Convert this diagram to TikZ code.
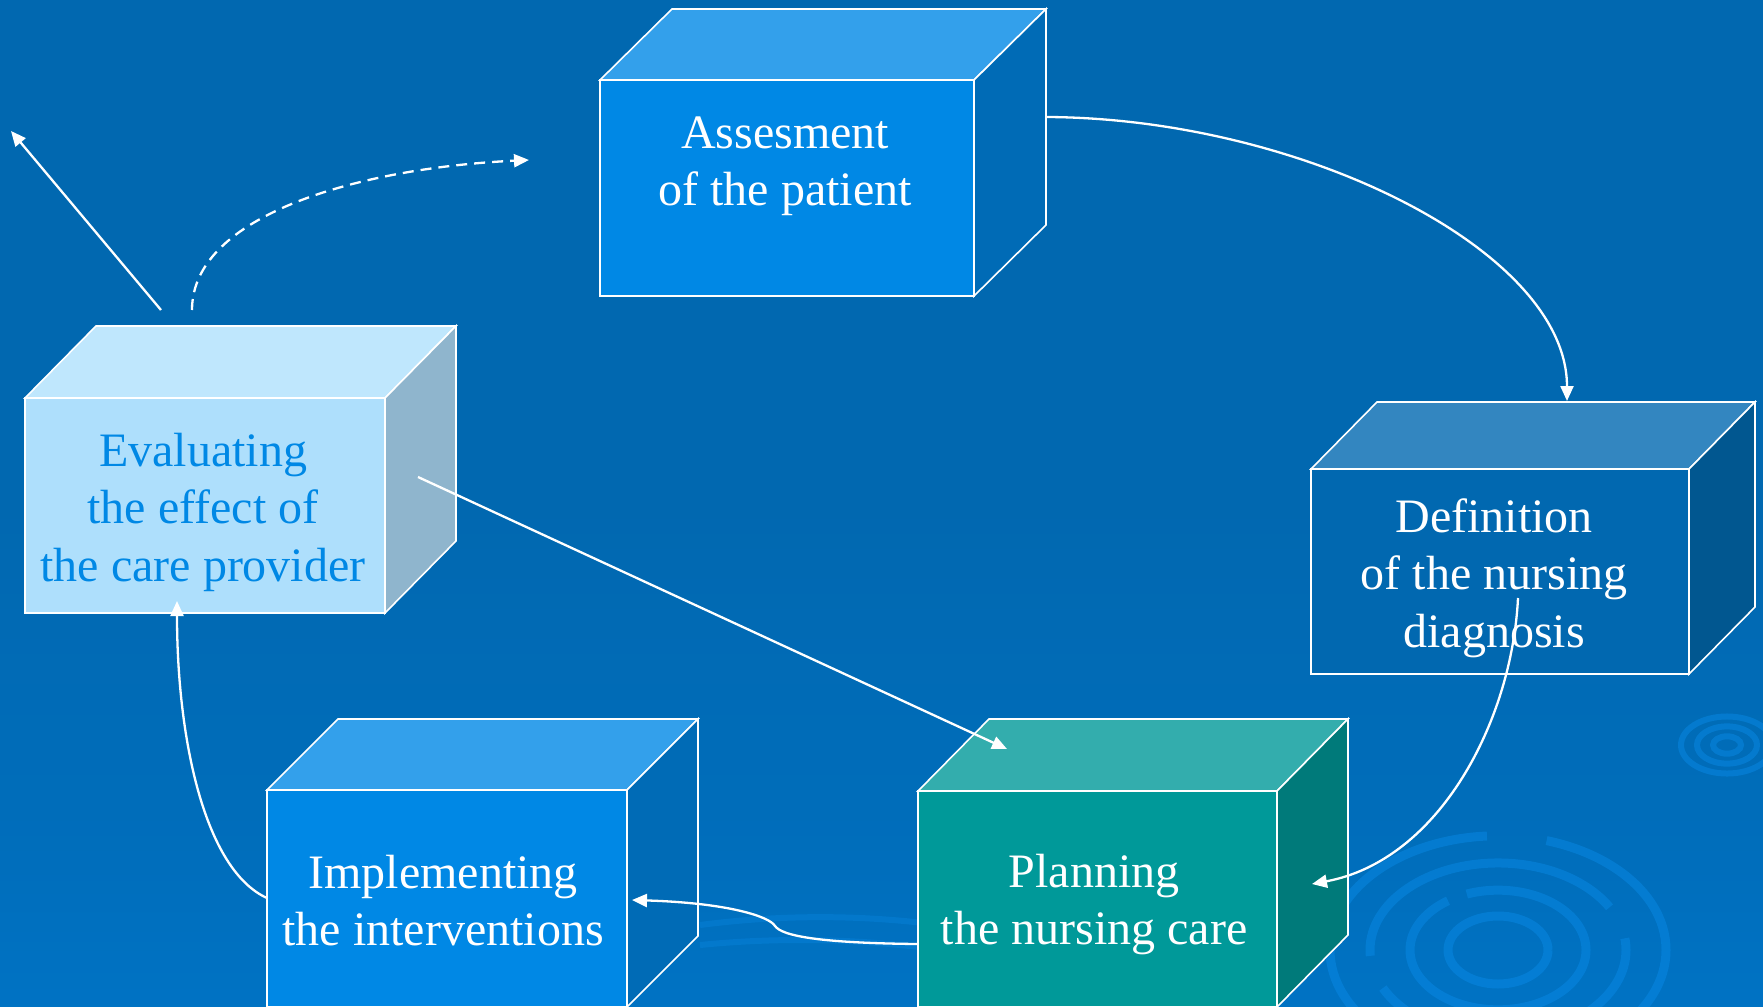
\documentclass[tikz,border=0pt]{standalone}
\usepackage{fontspec}
\setmainfont{Liberation Serif}
\usetikzlibrary{arrows.meta,calc}

\definecolor{bgtop}{RGB}{1,104,176}
\definecolor{bgmid}{RGB}{0,110,188}
\definecolor{bgbot}{RGB}{0,131,222}
\definecolor{rip}{RGB}{10,140,234}
\definecolor{afront}{RGB}{0,136,229}
\definecolor{atop}{RGB}{51,160,235}
\definecolor{aright}{RGB}{0,107,182}
\definecolor{dfront}{RGB}{1,104,176}
\definecolor{dtop}{RGB}{51,134,192}
\definecolor{dright}{RGB}{1,87,144}
\definecolor{efront}{RGB}{174,223,252}
\definecolor{etop}{RGB}{191,231,253}
\definecolor{eright}{RGB}{143,181,205}
\definecolor{etext}{RGB}{0,136,229}
\definecolor{pfront}{RGB}{0,153,153}
\definecolor{ptop}{RGB}{51,173,173}
\definecolor{pright}{RGB}{0,122,122}

\pgfdeclareverticalshading{bgsh}{100bp}{color(0bp)=(bgbot); color(32bp)=(bgmid); color(50bp)=(bgtop); color(100bp)=(bgtop)}

\newcommand\boxlines[1]{\begin{tabular}[t]{@{}c@{}}#1\end{tabular}}

% name, colour prefix, x1, y1, x2, y2, dx, dy
\newcommand\cuboid[8]{%
  \path[face, fill=#2top] (#3,#4) -- (#3+#7,#4-#8) -- (#5+#7,#4-#8) -- (#5,#4) -- cycle;
  \path[face, fill=#2right] (#5,#4) -- (#5+#7,#4-#8) -- (#5+#7,#6-#8) -- (#5,#6) -- cycle;
  \node[face, fill=#2front, anchor=north west, inner sep=0pt, outer sep=0pt,
        minimum width=#5-#3, minimum height=#6-#4] (#1) at (#3,#4) {};%
}

\begin{document}
\begin{tikzpicture}[x=1pt,y=-1pt,
  face/.style={draw=white, line width=1.6pt, line join=miter},
  conn/.style={draw=white, line width=2.3pt, -{Triangle[length=15pt,width=13pt]}},
  lbl/.style={inner sep=0pt, outer sep=0pt, anchor=base, text=white,
              font=\fontsize{48}{57.5}\selectfont},
  ripple/.style={draw=rip, line width=9pt, opacity=.45}]

\useasboundingbox (0,0) rectangle (1763,1006);
\shade[shading=bgsh] (0,0) rectangle (1763,1006);

\begin{scope}
\clip (0,0) rectangle (1763,1006);

% background ripples
\foreach \r/\g in {50/0, 88/20, 128/35, 168/60} {
  \draw[ripple, dash pattern=on 300pt off \g pt] (1498,950) ellipse [x radius=\r, y radius=0.68*\r];
}
\foreach \r in {14,30,46} {
  \draw[ripple, line width=6pt] (1727,745) ellipse [x radius=\r, y radius=0.62*\r];
}
\draw[ripple, line width=6pt, opacity=.3] (700,925) .. controls (800,912) and (900,915) .. (1000,935);
\draw[ripple, line width=6pt, opacity=.3] (700,945) .. controls (800,935) and (900,940) .. (1000,960);

% boxes
\cuboid{A}{a}{600}{80}{974}{296}{72}{71}
\cuboid{D}{d}{1311}{469}{1689}{674}{66}{67}
\cuboid{E}{e}{25}{398}{385}{613}{71}{72}
\cuboid{I}{a}{267}{790}{627}{1007}{71}{71}
\cuboid{P}{p}{918}{791}{1277}{1007}{71}{72}
\end{scope}

% labels
\node[lbl] (tA) at (785,148) {\boxlines{Assesment\\of the patient}};
\node[lbl] (tD) at (1494,532) {\boxlines{Definition\\of the nursing\\diagnosis}};
\node[lbl, text=etext] (tE) at (203,466) {\boxlines{Evaluating\\the effect of\\the care provider}};
\node[lbl] (tI) at (443,888) {\boxlines{Implementing\\the interventions}};
\node[lbl] (tP) at (1094,887) {\boxlines{Planning\\the nursing care}};

% connector end points
\coordinate (c1s) at (1046,117);
\coordinate (c1e) at (1567,401);
\coordinate (c2s) at (1518,598);
\coordinate (c2e) at (1312,884);
\coordinate (c3s) at (418,477);
\coordinate (c3e) at (1007,749);
\coordinate (c4s) at (917,944);
\coordinate (c4m) at (775,926);
\coordinate (c4e) at (632,900);
\coordinate (c5s) at (267,898);
\coordinate (c5e) at (177,601);
\coordinate (c6s) at (161,310);
\coordinate (c6e) at (11,131);
\coordinate (c7s) at (192,310);
\coordinate (c7e) at (529,160);

% connectors
\draw[conn] (c1s) .. controls (1300,118) and (1567,250) .. (c1e);
\draw[conn] (c2s) .. controls (1512,720) and (1440,860) .. (c2e);
\draw[conn] (c3s) -- (c3e);
\draw[conn] (c4s) .. controls (820,943) and (782,936) .. (c4m)
                  .. controls (770,917) and (730,903) .. (c4e);
\draw[conn] (c5s) .. controls (205,870) and (177,740) .. (c5e);
\draw[conn] (c6s) -- (c6e);
\draw[conn, dash pattern=on 11pt off 7pt] (c7s) .. controls (192,215) and (360,168) .. (c7e);
\end{tikzpicture}
\end{document}
